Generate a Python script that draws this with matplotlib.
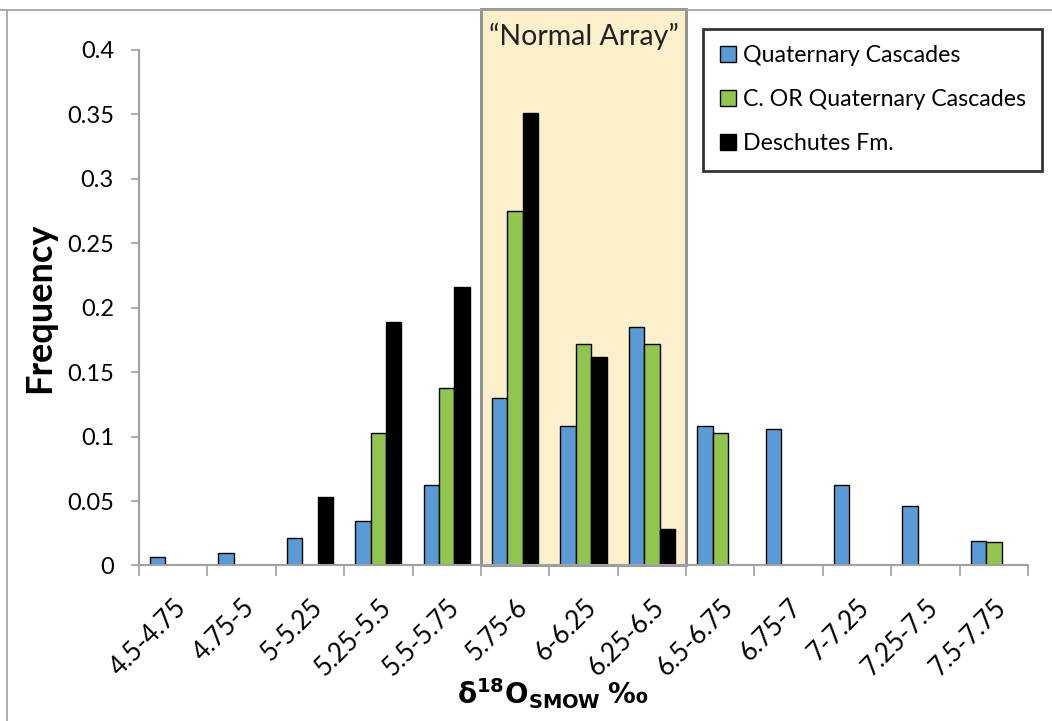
import numpy as np
import matplotlib.pyplot as plt
from matplotlib.patches import Rectangle
from matplotlib.lines import Line2D
import matplotlib.transforms as mtransforms

plt.rcParams['font.family'] = ['Lato', 'DejaVu Sans']

# Data (frequency per d18O bin)
bins = ['4.5-4.75', '4.75-5', '5-5.25', '5.25-5.5', '5.5-5.75', '5.75-6', '6-6.25',
        '6.25-6.5', '6.5-6.75', '6.75-7', '7-7.25', '7.25-7.5', '7.5-7.75']
quat_cascades = [0.0065, 0.0097, 0.0216, 0.0347, 0.0624, 0.130, 0.108,
                 0.185, 0.108, 0.1056, 0.0625, 0.046, 0.019]
c_or_cascades = [0, 0, 0, 0.1028, 0.138, 0.275, 0.172,
                 0.172, 0.103, 0, 0, 0, 0.018]
deschutes = [0, 0, 0.0535, 0.189, 0.216, 0.351, 0.162,
             0.028, 0, 0, 0, 0, 0]
series_names = ['Quaternary Cascades', 'C. OR Quaternary Cascades', 'Deschutes Fm.']
series_colors = ['#5B9BD5', '#92C550', '#000000']
normal_first, normal_last = '5.75-6', '6.25-6.5'

fig = plt.figure(figsize=(10.52, 7.21), dpi=100)
ax = fig.add_axes([0.1321, 0.2157, 0.8451, 0.715])

x = np.arange(len(bins))
w = 0.225
for i, (vals, name, col) in enumerate(zip([quat_cascades, c_or_cascades, deschutes],
                                           series_names, series_colors)):
    ax.bar(x + (i - 1) * w, vals, width=w, color=col, edgecolor='black',
           linewidth=1.0, label=name, zorder=3)

# "Normal Array" shaded band
trans = mtransforms.blended_transform_factory(ax.transData, ax.transAxes)
x0 = bins.index(normal_first) - 0.5
x1 = bins.index(normal_last) + 0.5
ax.add_patch(Rectangle((x0, 0), x1 - x0, 1.0795, transform=trans, facecolor='#FCEFCB',
                       edgecolor='#8C8C8C', linewidth=2, clip_on=False, zorder=1))
ax.text((x0 + x1) / 2, 1.027, '\u201cNormal Array\u201d', transform=trans,
        ha='center', va='center', fontsize=20.5, color='#222222', zorder=4)

ax.set_xlim(-0.5, len(bins) - 0.5)
ax.set_ylim(0, 0.4)
ax.set_yticks(np.arange(0, 0.401, 0.05))
ax.set_yticklabels(['0', '0.05', '0.1', '0.15', '0.2', '0.25', '0.3', '0.35', '0.4'],
                   fontsize=17)
ax.set_xticks(x)
ax.set_xticklabels(bins, rotation=45, ha='right', rotation_mode='anchor', fontsize=18.5)
shift = mtransforms.ScaledTranslation(13 / 100, 0, fig.dpi_scale_trans)
for lab in ax.get_xticklabels():
    lab.set_transform(lab.get_transform() + shift)
ax.set_xticks(np.arange(-0.5, len(bins)), minor=True)
ax.tick_params(axis='x', which='major', length=0, pad=21)
ax.tick_params(axis='x', which='minor', length=8, color='#A0A0A0', width=1.2)
ax.tick_params(axis='y', length=6, color='#A0A0A0', width=1.2, pad=12)

for s in ['top', 'right']:
    ax.spines[s].set_visible(False)
for s in ['left', 'bottom']:
    ax.spines[s].set_color('#A0A0A0')
    ax.spines[s].set_linewidth(1.5)
    ax.spines[s].set_zorder(5)

ax.set_ylabel('Frequency', fontsize=26, fontweight='bold', labelpad=8)
ax.set_xlabel(r'$\mathbf{\delta^{18}O_{SMOW}}$ $\mathbf{‰}$', fontsize=20, labelpad=0)
ax.xaxis.set_label_coords(0.465, -0.215)

leg = fig.legend(loc='upper right', bbox_to_anchor=(0.9905, 0.96), fontsize=16.7,
                 frameon=True, fancybox=False, edgecolor='black', handlelength=0.7,
                 handleheight=0.7, handletextpad=0.3, labelspacing=1.0,
                 borderpad=0.7, borderaxespad=0)
leg.get_frame().set_linewidth(2)

# chart-area border (top and left edges visible)
fig.add_artist(Line2D([0, 1], [1 - 9.5 / 721] * 2, transform=fig.transFigure,
                      color='#A0A0A0', linewidth=1.2))
fig.add_artist(Line2D([7 / 1052] * 2, [0, 1 - 9.5 / 721], transform=fig.transFigure,
                      color='#A0A0A0', linewidth=1.2))

fig.savefig('out.png', dpi=100)
